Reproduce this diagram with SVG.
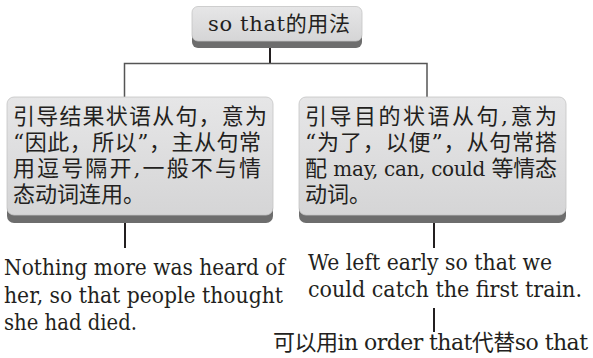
<svg xmlns="http://www.w3.org/2000/svg" width="593" height="358" viewBox="0 0 593 358">
<defs>
<linearGradient id="boxg" x1="0" y1="0" x2="0" y2="1">
<stop offset="0" stop-color="#e6e6e7"/>
<stop offset="1" stop-color="#d5d5d6"/>
</linearGradient>
</defs>
<style>
.shadow{fill:#6d6d6d}
.box{fill:url(#boxg);stroke:#c4c4c4;stroke-width:0.8}
.t{font-family:"DejaVu Serif","Noto Sans CJK SC",serif;font-size:22px;fill:#231f20}
.e{font-family:"DejaVu Serif","Noto Sans CJK SC",serif;font-size:21.5px;fill:#231f20}
.blk{stroke:#231f20;stroke-width:2;fill:none}
.gry{stroke:#555;stroke-width:1.5;fill:none}
</style>
<g id="connectors">
<line class="blk" x1="270" y1="47" x2="270" y2="64"/>
<polyline class="gry" points="124.5,97 124.5,63.5 427,63.5 427,97"/>
<line class="blk" x1="125" y1="222" x2="125" y2="248"/>
<line class="blk" x1="434" y1="222" x2="434" y2="248"/>
<line class="blk" x1="434" y1="308" x2="434" y2="332"/>
</g>
<g id="root">
<rect class="shadow" x="192" y="12" width="170" height="36" rx="6"/>
<rect class="box" x="192" y="6.5" width="170" height="34.5" rx="6"/>
<text class="t" x="208" y="31" style="font-size:21px" textLength="142" lengthAdjust="spacing">so that的用法</text>
</g>
<g id="result">
<rect class="shadow" x="7" y="104" width="266" height="119" rx="7"/>
<rect class="box" x="7" y="97" width="266" height="118" rx="7"/>
<text class="t" x="13" y="124" textLength="254" lengthAdjust="spacing">引导结果状语从句，意为</text>
<text class="t" x="13" y="150" textLength="248" lengthAdjust="spacing">“因此，所以”，主从句常</text>
<text class="t" x="13" y="176" textLength="248" lengthAdjust="spacing">用逗号隔开,一般不与情</text>
<text class="t" x="13" y="202">态动词连用。</text>
</g>
<g id="purpose">
<rect class="shadow" x="299" y="104" width="267" height="119" rx="7"/>
<rect class="box" x="299" y="97" width="267" height="118" rx="7"/>
<text class="t" x="305" y="124" textLength="252" lengthAdjust="spacing">引导目的状语从句,意为</text>
<text class="t" x="305" y="150" textLength="252" lengthAdjust="spacing">“为了，以便”，从句常搭</text>
<text class="t" x="305" y="176" textLength="252" lengthAdjust="spacing">配 <tspan style="font-size:20px">may, can, could</tspan> 等情态</text>
<text class="t" x="305" y="202">动词。</text>
</g>
<g id="example-result">
<text class="e" x="4" y="275" textLength="281" lengthAdjust="spacingAndGlyphs">Nothing more was heard of</text>
<text class="e" x="4" y="303" textLength="279" lengthAdjust="spacingAndGlyphs">her, so that people thought</text>
<text class="e" x="4" y="330" textLength="133" lengthAdjust="spacingAndGlyphs">she had died.</text>
</g>
<g id="example-purpose">
<text class="e" x="308" y="270" textLength="244" lengthAdjust="spacingAndGlyphs">We left early so that we</text>
<text class="e" x="308" y="297" textLength="274" lengthAdjust="spacingAndGlyphs">could catch the first train.</text>
</g>
<g id="note">
<text class="t" x="273" y="350" textLength="315" lengthAdjust="spacing">可以用in order that代替so that</text>
</g>
</svg>
